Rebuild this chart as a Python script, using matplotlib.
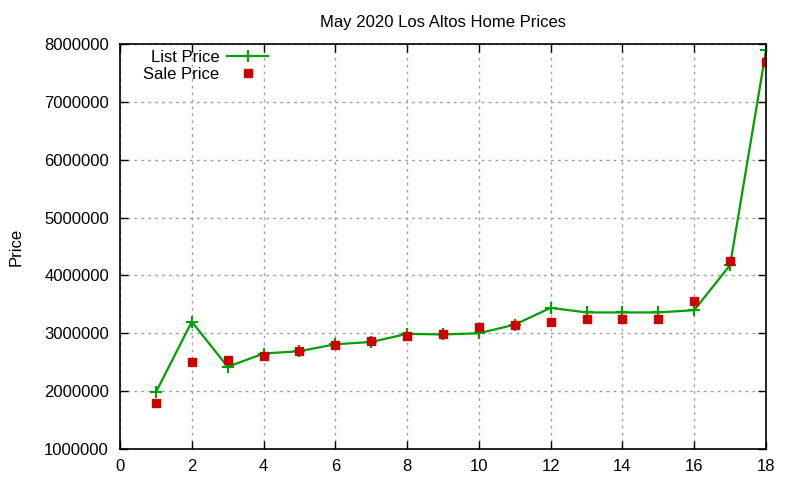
import matplotlib
matplotlib.use("Agg")
import matplotlib.pyplot as plt

plt.rcParams['font.family'] = ['Liberation Sans', 'DejaVu Sans']

# Data
homes = list(range(1, 19))
list_price = [1980000, 3200000, 2420000, 2650000, 2690000, 2810000, 2850000, 2990000, 2980000,
              3000000, 3150000, 3440000, 3360000, 3360000, 3360000, 3400000, 4180000, 7890000]
sale_price = [1800000, 2510000, 2530000, 2600000, 2700000, 2800000, 2870000, 2960000, 2980000,
              3100000, 3150000, 3200000, 3250000, 3250000, 3250000, 3560000, 4250000, 7690000]

fig = plt.figure(figsize=(8, 4.8), dpi=100)
ax = fig.add_axes([0.15, 0.0646, 0.8075, 0.8437])

ax.plot(homes, list_price, color='#00a000', linewidth=1.6, marker='+', markersize=8,
        markeredgewidth=1.5, label='List Price')
ax.plot(homes, sale_price, color='#cc0000', linestyle='none', marker='s', markersize=6,
        label='Sale Price')

ax.set_xlim(0, 18)
ax.set_ylim(1000000, 8000000)
ax.set_xticks(range(0, 19, 2))
ax.set_yticks(range(1000000, 8000001, 1000000))
ax.ticklabel_format(style='plain', axis='y', useOffset=False)
ax.tick_params(direction='in', top=True, right=True, labelsize=12, length=6, width=1)
ax.tick_params(axis='y', pad=8)
ax.tick_params(axis='x', pad=7)
ax.grid(True, linestyle=(0, (2, 3)), color='#a0a0a0', linewidth=1)
for s in ax.spines.values():
    s.set_linewidth(1.2)

ax.set_title('May 2020 Los Altos Home Prices', fontsize=12, pad=12)
ax.set_ylabel('Price', fontsize=12, labelpad=15)

ax.legend(loc='upper left', frameon=False, markerfirst=False, fontsize=12,
          handlelength=2.5, handletextpad=0.45, borderaxespad=0.1, labelspacing=0.12,
          bbox_to_anchor=(0.023, 1.005))

fig.savefig('out.png', dpi=100)
